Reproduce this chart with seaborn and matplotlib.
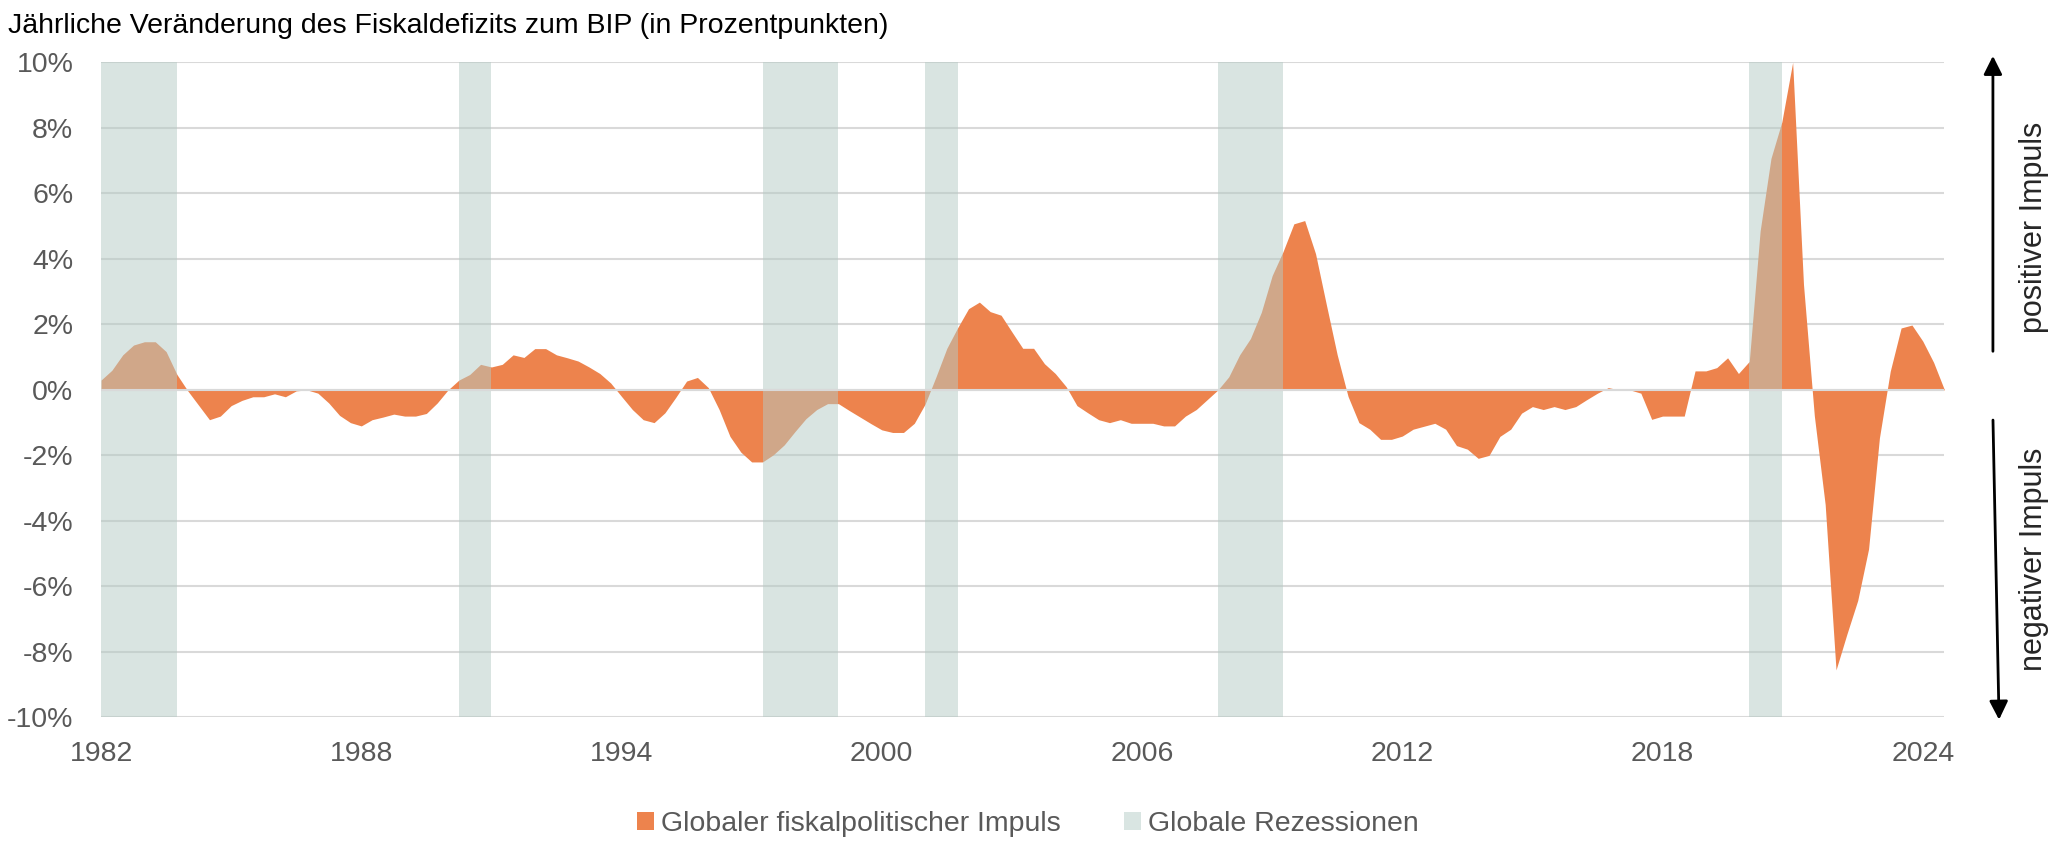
import matplotlib
matplotlib.use("Agg")
import matplotlib.pyplot as plt
from matplotlib.patches import Patch
import numpy as np
import pandas as pd
import seaborn as sns

# quarterly series, 1982Q1 .. 2024Q3
start_year = 1982
impulse = [
    0.30, 0.60, 1.07, 1.37, 1.47, 1.47, 1.17, 0.47, -0.03, -0.47,
    -0.91, -0.80, -0.48, -0.32, -0.21, -0.21, -0.12, -0.21, -0.03, 0.00,
    -0.10, -0.40, -0.78, -1.00, -1.10, -0.91, -0.83, -0.74, -0.80, -0.80,
    -0.72, -0.40, 0.00, 0.30, 0.47, 0.78, 0.70, 0.78, 1.07, 0.99,
    1.26, 1.26, 1.07, 0.98, 0.88, 0.70, 0.50, 0.21, -0.20, -0.60,
    -0.91, -1.00, -0.70, -0.23, 0.27, 0.38, 0.07, -0.60, -1.42, -1.90,
    -2.20, -2.20, -1.98, -1.68, -1.27, -0.88, -0.60, -0.42, -0.42, -0.63,
    -0.83, -1.03, -1.22, -1.30, -1.30, -1.02, -0.43, 0.40, 1.27, 1.90,
    2.48, 2.68, 2.39, 2.28, 1.77, 1.27, 1.27, 0.80, 0.50, 0.10,
    -0.48, -0.70, -0.91, -1.00, -0.91, -1.02, -1.02, -1.02, -1.10, -1.10,
    -0.80, -0.60, -0.30, 0.00, 0.40, 1.07, 1.57, 2.37, 3.49, 4.22,
    5.07, 5.17, 4.16, 2.60, 1.07, -0.20, -1.00, -1.20, -1.51, -1.51,
    -1.41, -1.20, -1.11, -1.02, -1.20, -1.70, -1.81, -2.09, -2.00, -1.42,
    -1.20, -0.71, -0.51, -0.60, -0.51, -0.60, -0.51, -0.30, -0.10, 0.07,
    0.00, 0.00, -0.10, -0.90, -0.80, -0.80, -0.80, 0.58, 0.58, 0.68,
    0.98, 0.50, 0.87, 4.85, 7.07, 8.18, 10.00, 3.22, -0.79, -3.50,
    -8.55, -7.46, -6.43, -4.86, -1.47, 0.57, 1.89, 1.98, 1.49, 0.84,
    0.00,
]
quarters = [f"{start_year + i // 4}Q{i % 4 + 1}" for i in range(len(impulse))]

rec_start = ["1982Q1", "1990Q2", "1997Q2", "2001Q1", "2007Q4", "2020Q1"]
rec_end = ["1983Q4", "1991Q1", "1999Q1", "2001Q4", "2009Q2", "2020Q4"]

tick_years = [1982, 1988, 1994, 2000, 2006, 2012, 2018, 2024]
y_ticks = [-10, -8, -6, -4, -2, 0, 2, 4, 6, 8, 10]

title = "Jährliche Veränderung des Fiskaldefizits zum BIP (in Prozentpunkten)"
label_impulse = "Globaler fiskalpolitischer Impuls"
label_recession = "Globale Rezessionen"

ORANGE = "#ED834D"
BAND = "#B5CBC5"
BAND_LEGEND = "#D9E5E2"
GRID = "#D9D9D9"
GREY_TXT = "#595959"

df = pd.DataFrame({"quarter": quarters, "impulse": impulse})
df["idx"] = np.arange(len(df))
pos = dict(zip(df["quarter"], df["idx"]))

sns.set_theme(style="white")
plt.rcParams["font.family"] = ["Liberation Sans", "DejaVu Sans"]
plt.rcParams["axes.unicode_minus"] = False

fig = plt.figure(figsize=(20.62, 8.43), dpi=100)
ax = fig.add_axes([0.049, 0.149, 0.894, 0.777])

sns.lineplot(data=df, x="idx", y="impulse", ax=ax, lw=0, color=ORANGE)
ax.fill_between(df["idx"], 0, df["impulse"], color=ORANGE, lw=0, zorder=2)

# recession bands sit on top, semi-transparent
for s, e in zip(rec_start, rec_end):
    ax.axvspan(pos[s], pos[e], color=BAND, alpha=0.5, lw=0, zorder=3)

ax.axhline(0, color=GRID, lw=1.5, zorder=4)

ax.set_xlim(0, len(df) - 1)
ax.set_ylim(-10, 10)
ax.set_yticks(y_ticks)
ax.set_yticklabels([f"{v}%" for v in y_ticks])
ax.set_xticks([pos[f"{y}Q1"] for y in tick_years])
ax.set_xticklabels([str(y) for y in tick_years])
ax.tick_params(axis="y", length=0, pad=20, labelsize=20.5, labelcolor=GREY_TXT)
ax.tick_params(axis="x", length=0, pad=17, labelsize=20.5, labelcolor=GREY_TXT)
ax.set_xlabel("")
ax.set_ylabel("")
ax.yaxis.grid(True, color=GRID, lw=1.5, zorder=0)
ax.xaxis.grid(False)
ax.set_axisbelow(True)
for sp in ax.spines.values():
    sp.set_visible(False)

fig.text(0.004, 0.969, title, fontsize=20.5, color="black", ha="left", va="center")

# right-hand impulse arrows
ax.annotate("", xy=(0.9665, 0.937), xytext=(0.9665, 0.580), xycoords="figure fraction",
            arrowprops=dict(arrowstyle="-|>", color="black", lw=2, mutation_scale=28))
ax.annotate("", xy=(0.9695, 0.143), xytext=(0.9665, 0.505), xycoords="figure fraction",
            arrowprops=dict(arrowstyle="-|>", color="black", lw=2, mutation_scale=28))
fig.text(0.9865, 0.73, "positiver Impuls", rotation=90, fontsize=22, ha="center", va="center")
fig.text(0.9865, 0.336, "negativer Impuls", rotation=90, fontsize=22, ha="center", va="center")

handles = [Patch(facecolor=ORANGE, edgecolor="none", label=label_impulse),
           Patch(facecolor=BAND_LEGEND, edgecolor="none", label=label_recession)]
leg = fig.legend(handles=handles, loc="center", bbox_to_anchor=(0.4985, 0.022), ncol=2,
                 frameon=False, fontsize=20.5, handlelength=0.6, handleheight=0.6,
                 handletextpad=0.25, columnspacing=2.2)
for t in leg.get_texts():
    t.set_color(GREY_TXT)

fig.savefig("out.png", dpi=100)
